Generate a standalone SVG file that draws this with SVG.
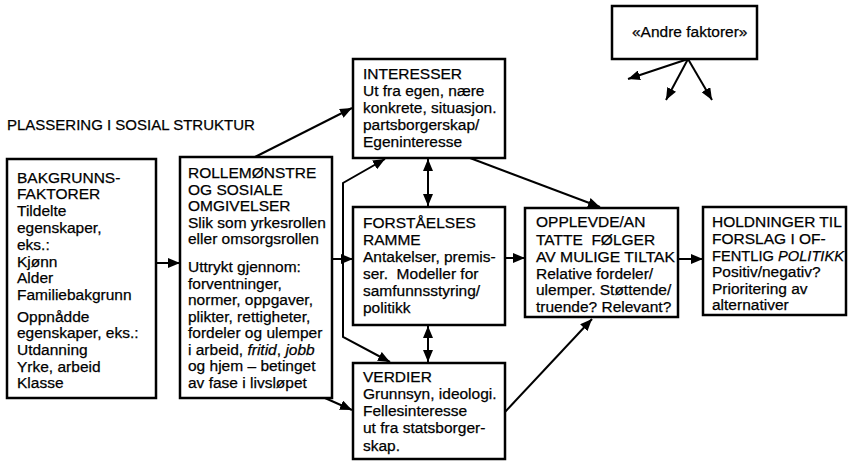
<svg xmlns="http://www.w3.org/2000/svg" width="848" height="462" viewBox="0 0 848 462">
<style>
.box{fill:#fff;stroke:#000;stroke-width:2.5}
.t{font-family:"Liberation Sans",Arial,sans-serif;font-size:15.5px;fill:#000;stroke:#000;stroke-width:0.25}
.c{fill:none;stroke:#000;stroke-width:2}
.i{font-style:italic}
</style>
<defs>
<marker id="ah" viewBox="0 0 12 10" refX="12" refY="5" markerWidth="12" markerHeight="10" markerUnits="userSpaceOnUse" orient="auto-start-reverse">
<path d="M0,0 L12,5 L0,10 z" fill="#000"/>
</marker>
</defs>
<rect width="848" height="462" fill="#fff"/>
<text class="t" x="7" y="130" style="font-size:15px">PLASSERING I SOSIAL STRUKTUR</text>

<g id="connectors">
<line class="c" x1="156" y1="263" x2="180" y2="263" marker-end="url(#ah)"/>
<line class="c" x1="255" y1="157" x2="352" y2="108" marker-end="url(#ah)"/>
<line class="c" x1="332" y1="259" x2="353" y2="259" marker-end="url(#ah)"/>
<path class="c" d="M385,159 L343,183 L343,337 L390,362" marker-start="url(#ah)" marker-end="url(#ah)"/>
<line class="c" x1="325" y1="398" x2="352" y2="410" marker-end="url(#ah)"/>
<line class="c" x1="428" y1="159" x2="428" y2="206" marker-start="url(#ah)" marker-end="url(#ah)"/>
<line class="c" x1="428" y1="326" x2="428" y2="362" marker-start="url(#ah)" marker-end="url(#ah)"/>
<line class="c" x1="470" y1="158" x2="600" y2="207" marker-end="url(#ah)"/>
<line class="c" x1="505" y1="258" x2="525" y2="258" marker-end="url(#ah)"/>
<line class="c" x1="505" y1="412" x2="592" y2="319" marker-end="url(#ah)"/>
<line class="c" x1="678" y1="259" x2="703" y2="259" marker-end="url(#ah)"/>
<line class="c" x1="688" y1="59" x2="628" y2="79" marker-end="url(#ah)"/>
<line class="c" x1="688" y1="59" x2="666" y2="100" marker-end="url(#ah)"/>
<line class="c" x1="688" y1="59" x2="712" y2="100" marker-end="url(#ah)"/>
</g>

<g id="andre">
<rect class="box" x="612" y="6" width="145" height="53"/>
<text class="t" x="632" y="37">«Andre faktorer»</text>
</g>

<g id="bakgrunn">
<rect class="box" x="7" y="159" width="149" height="239"/>
<text class="t">
<tspan x="17" y="183">BAKGRUNNS-</tspan>
<tspan x="17" y="199">FAKTORER</tspan>
<tspan x="17" y="216">Tildelte</tspan>
<tspan x="17" y="233">egenskaper,</tspan>
<tspan x="17" y="250">eks.:</tspan>
<tspan x="17" y="267">Kjønn</tspan>
<tspan x="17" y="283">Alder</tspan>
<tspan x="17" y="300">Familiebakgrunn</tspan>
<tspan x="17" y="322">Oppnådde</tspan>
<tspan x="17" y="338">egenskaper, eks.:</tspan>
<tspan x="17" y="355">Utdanning</tspan>
<tspan x="17" y="372">Yrke, arbeid</tspan>
<tspan x="17" y="388">Klasse</tspan>
</text>
</g>

<g id="rollemonstre">
<rect class="box" x="180" y="157" width="152" height="241"/>
<text class="t">
<tspan x="188" y="178">ROLLEMØNSTRE</tspan>
<tspan x="188" y="195">OG SOSIALE</tspan>
<tspan x="188" y="211">OMGIVELSER</tspan>
<tspan x="188" y="228">Slik som yrkesrollen</tspan>
<tspan x="188" y="244">eller omsorgsrollen</tspan>
<tspan x="188" y="272">Uttrykt gjennom:</tspan>
<tspan x="188" y="289">forventninger,</tspan>
<tspan x="188" y="305">normer, oppgaver,</tspan>
<tspan x="188" y="322">plikter, rettigheter,</tspan>
<tspan x="188" y="338">fordeler og ulemper</tspan>
<tspan x="188" y="355">i arbeid, <tspan class="i">fritid</tspan>, <tspan class="i">jobb</tspan></tspan>
<tspan x="188" y="371">og hjem – betinget</tspan>
<tspan x="188" y="388">av fase i livsløpet</tspan>
</text>
</g>

<g id="interesser">
<rect class="box" x="353" y="59" width="152" height="99"/>
<text class="t">
<tspan x="363" y="79">INTERESSER</tspan>
<tspan x="363" y="96">Ut fra egen, nære</tspan>
<tspan x="363" y="113">konkrete, situasjon.</tspan>
<tspan x="363" y="130">partsborgerskap/</tspan>
<tspan x="363" y="147">Egeninteresse</tspan>
</text>
</g>

<g id="forstaelse">
<rect class="box" x="353" y="207" width="152" height="118"/>
<text class="t">
<tspan x="363" y="228">FORSTÅELSES</tspan>
<tspan x="363" y="245">RAMME</tspan>
<tspan x="363" y="262">Antakelser, premis-</tspan>
<tspan x="363" y="279">ser.&#160; Modeller for</tspan>
<tspan x="363" y="296">samfunnsstyring/</tspan>
<tspan x="363" y="313">politikk</tspan>
</text>
</g>

<g id="verdier">
<rect class="box" x="353" y="363" width="152" height="96"/>
<text class="t">
<tspan x="363" y="382">VERDIER</tspan>
<tspan x="363" y="399">Grunnsyn, ideologi.</tspan>
<tspan x="363" y="416">Fellesinteresse</tspan>
<tspan x="363" y="433">ut fra statsborger-</tspan>
<tspan x="363" y="451">skap.</tspan>
</text>
</g>

<g id="opplevde">
<rect class="box" x="525" y="208" width="153" height="109"/>
<text class="t">
<tspan x="536" y="227">OPPLEVDE/AN</tspan>
<tspan x="536" y="245">TATTE&#160; FØLGER</tspan>
<tspan x="536" y="262" textLength="139" lengthAdjust="spacingAndGlyphs">AV MULIGE TILTAK</tspan>
<tspan x="536" y="279">Relative fordeler/</tspan>
<tspan x="536" y="295">ulemper. Støttende/</tspan>
<tspan x="536" y="312">truende? Relevant?</tspan>
</text>
</g>

<g id="holdninger">
<rect class="box" x="703" y="207" width="143" height="108"/>
<text class="t">
<tspan x="712" y="227">HOLDNINGER TIL</tspan>
<tspan x="712" y="244">FORSLAG I OF-</tspan>
<tspan x="712" y="261" textLength="132" lengthAdjust="spacingAndGlyphs">FENTLIG <tspan class="i">POLITIKK</tspan></tspan>
<tspan x="712" y="277">Positiv/negativ?</tspan>
<tspan x="712" y="294">Prioritering av</tspan>
<tspan x="712" y="310">alternativer</tspan>
</text>
</g>
</svg>
